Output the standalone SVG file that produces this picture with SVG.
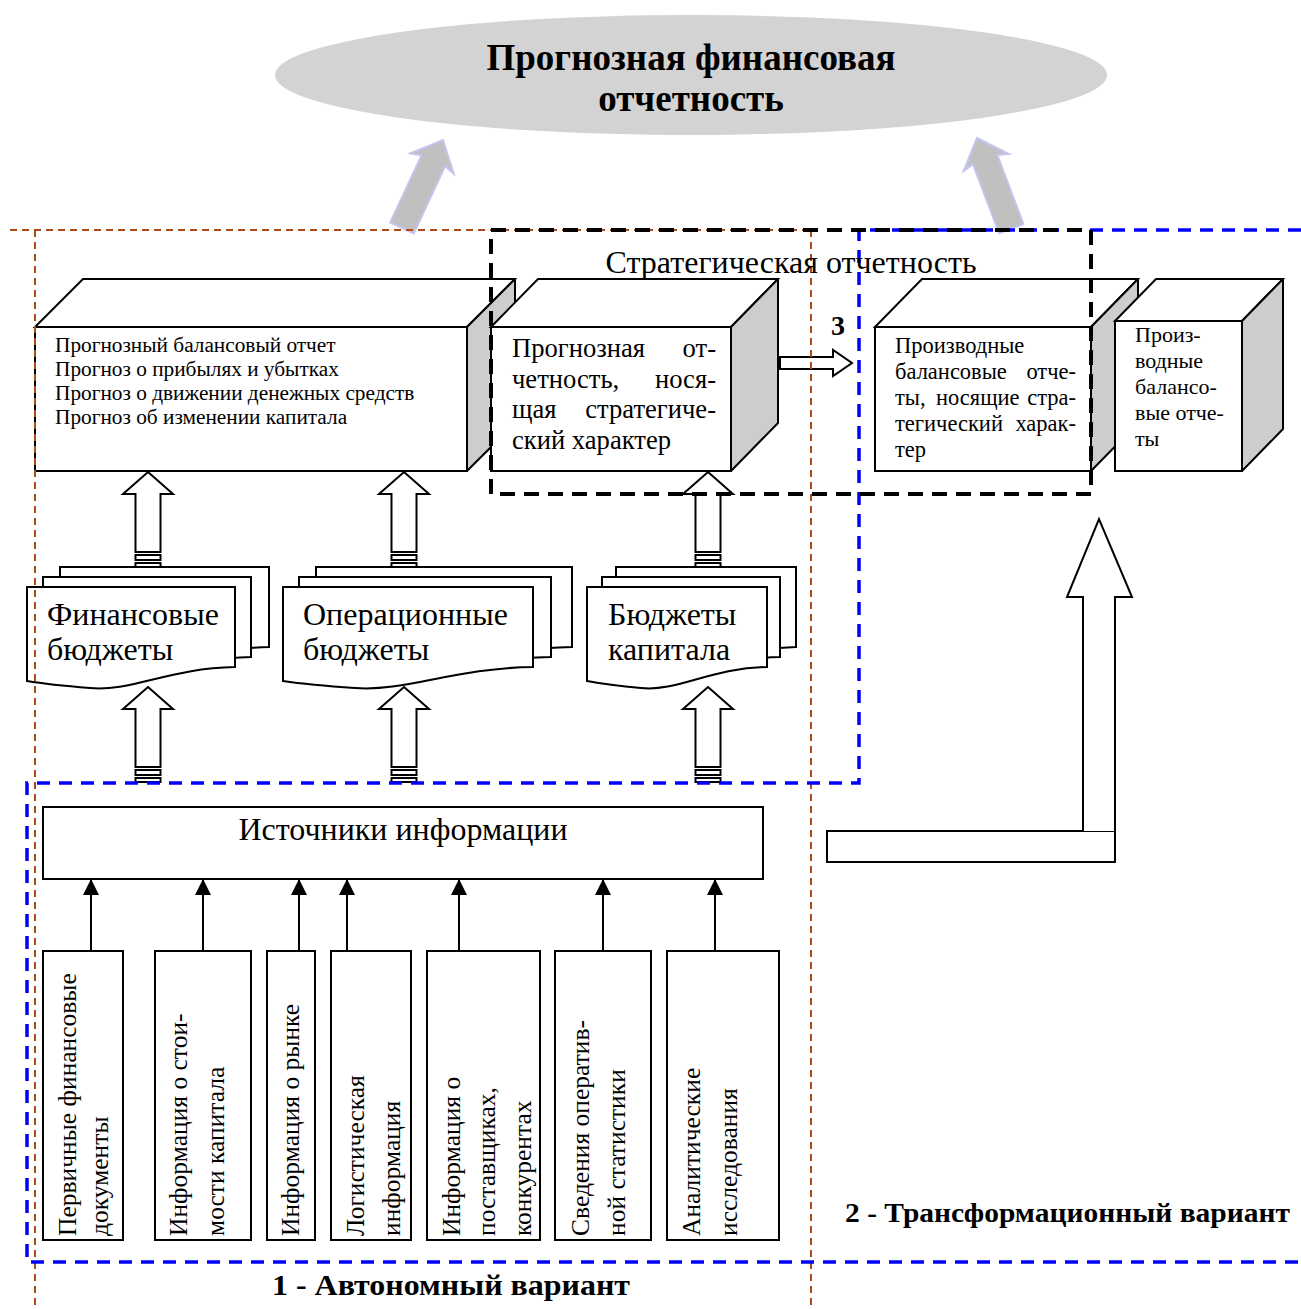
<svg xmlns="http://www.w3.org/2000/svg" width="1301" height="1309" viewBox="0 0 1301 1309">
  <style>
    text { font-family: "Liberation Serif", "Times New Roman", serif; fill: #000; }
    .b { font-weight: bold; }
    .box { fill: #fff; stroke: #000; stroke-width: 2; }
    .side { fill: #cdcdcd; stroke: #000; stroke-width: 2; stroke-linejoin: round; }
    .ln { stroke: #000; stroke-width: 2; fill: none; }
    .brown { stroke: #b04a1a; stroke-width: 2; fill: none; stroke-dasharray: 7 5; }
    .blue { stroke: #0000ff; stroke-width: 3.5; fill: none; stroke-dasharray: 13 9; }
    .black { stroke: #000; stroke-width: 4; fill: none; stroke-dasharray: 15 9; }
    .grey { fill: #c0c0c0; stroke: #c4c4f0; stroke-width: 2; }
    .vt { font-size: 25.5px; }
  </style>
  <defs>
    <marker id="tri" markerUnits="userSpaceOnUse" markerWidth="16" markerHeight="16" refX="16" refY="8" orient="auto">
      <path d="M0,0 L16,8 L0,16 Z" fill="#000"/>
    </marker>
    <!-- hollow block arrow pointing up, tip at origin, with two tail stripes -->
    <g id="blockUp">
      <polygon class="box" points="0,0 25,22 12.5,22 12.5,80 -12.5,80 -12.5,22 -25,22"/>
      <rect class="box" x="-12.5" y="83" width="25" height="5"/>
      <rect class="box" x="-12.5" y="91" width="25" height="4"/>
    </g>
    <!-- grey arrow towards the report ellipse -->
    <path id="greyArrow" d="M0,0 L24,26 L13,23 L13,97 L-13,97 L-13,23 L-24,26 Z"/>
  </defs>

  <rect width="1301" height="1309" fill="#fff"/>

  <!-- target: forecast financial reporting -->
  <g id="report">
    <ellipse cx="691" cy="75" rx="416" ry="60" fill="#d3d3d3"/>
    <text class="b" x="691" y="70" font-size="37" text-anchor="middle">Прогнозная финансовая</text>
    <text class="b" x="691" y="111" font-size="37" text-anchor="middle">отчетность</text>
  </g>

  <g id="up-arrows">
    <use href="#greyArrow" class="grey" transform="translate(443,140) rotate(25)"/>
    <use href="#greyArrow" class="grey" transform="translate(977,138) rotate(-20.7)"/>
  </g>

  <!-- cube 1: forecast statements -->
  <g id="cube-forecast">
    <path class="box" d="M35,327 L83,279 L515,279 L467,327 Z"/>
    <path class="side" d="M467,327 L515,279 L515,423 L467,471 Z"/>
    <rect class="box" x="35" y="327" width="432" height="144"/>
    <g font-size="21.3">
      <text x="55" y="352">Прогнозный балансовый отчет</text>
      <text x="55" y="376">Прогноз о прибылях и убытках</text>
      <text x="55" y="400">Прогноз о движении денежных средств</text>
      <text x="55" y="424">Прогноз об изменении капитала</text>
    </g>
  </g>

  <!-- cube 2: strategic forecast reporting -->
  <g id="cube-strategic">
    <path class="box" d="M491,327 L538,279 L778,279 L731,327 Z"/>
    <path class="side" d="M731,327 L778,279 L778,423 L731,471 Z"/>
    <rect class="box" x="491" y="327" width="240" height="144"/>
    <g font-size="26.6">
      <text x="512" y="357">Прогнозная</text>
      <text x="716" y="357" text-anchor="end">от-</text>
      <text x="512" y="388">четность,</text>
      <text x="716" y="388" text-anchor="end">нося-</text>
      <text x="512" y="418">щая</text>
      <text x="716" y="418" text-anchor="end">стратегиче-</text>
      <text x="512" y="449">ский характер</text>
    </g>
  </g>

  <!-- cube 3: derived strategic balance reports -->
  <g id="cube-derived-strategic">
    <path class="box" d="M875,327 L922,279 L1138,279 L1091,327 Z"/>
    <path class="side" d="M1091,327 L1138,279 L1138,423 L1091,471 Z"/>
    <rect class="box" x="875" y="327" width="216" height="144"/>
    <g font-size="22.5">
      <text x="895" y="353">Производные</text>
      <text x="895" y="379">балансовые</text>
      <text x="1076" y="379" text-anchor="end">отче-</text>
      <text x="895" y="405">ты,</text>
      <text x="936" y="405">носящие</text>
      <text x="1076" y="405" text-anchor="end">стра-</text>
      <text x="895" y="431">тегический</text>
      <text x="1076" y="431" text-anchor="end">харак-</text>
      <text x="895" y="457">тер</text>
    </g>
  </g>

  <!-- cube 4: derived balance reports -->
  <g id="cube-derived">
    <path class="box" d="M1115,321 L1156,279 L1283,279 L1242,321 Z"/>
    <path class="side" d="M1242,321 L1283,279 L1283,429 L1242,471 Z"/>
    <rect class="box" x="1115" y="321" width="127" height="150"/>
    <g font-size="22">
      <text x="1135" y="342">Произ-</text>
      <text x="1135" y="368">водные</text>
      <text x="1135" y="394">балансо-</text>
      <text x="1135" y="420">вые отче-</text>
      <text x="1135" y="446">ты</text>
    </g>
  </g>

  <!-- budget document stacks -->
  <g id="doc-financial">
    <path class="box" d="M60,567 H269 V647 C204,648 164,672 124,668 C99,666 79,664 60,661 Z"/>
    <path class="box" d="M43,577 H251 V657 C186,658 146,682 106,678 C81,676 61,674 43,671 Z"/>
    <path class="box" d="M27,587 H235 V667 C170,668 130,692 90,688 C65,686 45,684 27,681 Z"/>
    <text x="47" y="625" font-size="32">Финансовые</text>
    <text x="47" y="660" font-size="32">бюджеты</text>
  </g>
  <g id="doc-operational">
    <path class="box" d="M316,567 H572 V647 C494,648 444,672 394,668 C364,666 340,664 316,661 Z"/>
    <path class="box" d="M299,577 H551 V657 C473,658 423,682 373,678 C343,676 320,674 299,671 Z"/>
    <path class="box" d="M283,587 H533 V667 C455,668 405,692 355,688 C325,686 303,684 283,681 Z"/>
    <text x="303" y="625" font-size="32">Операционные</text>
    <text x="303" y="660" font-size="32">бюджеты</text>
  </g>
  <g id="doc-capital">
    <path class="box" d="M616,567 H796 V647 C740,648 706,672 670,668 C648,666 632,664 616,661 Z"/>
    <path class="box" d="M602,577 H780 V657 C724,658 690,682 654,678 C632,676 618,674 602,671 Z"/>
    <path class="box" d="M587,587 H767 V667 C711,668 677,692 641,688 C619,686 603,684 587,681 Z"/>
    <text x="608" y="625" font-size="32">Бюджеты</text>
    <text x="608" y="660" font-size="32">капитала</text>
  </g>

  <!-- information sources -->
  <g id="sources">
    <rect class="box" x="43" y="807" width="720" height="72"/>
    <text x="403" y="840" font-size="32" text-anchor="middle">Источники информации</text>
  </g>

  <g id="src-1">
    <rect class="box" x="43" y="951" width="80" height="289"/>
    <text class="vt" transform="translate(76,1236) rotate(-90)">Первичные финансовые</text>
    <text class="vt" transform="translate(108,1236) rotate(-90)">документы</text>
  </g>
  <g id="src-2">
    <rect class="box" x="155" y="951" width="96" height="289"/>
    <text class="vt" transform="translate(187,1236) rotate(-90)">Информация о стои-</text>
    <text class="vt" transform="translate(224,1236) rotate(-90)">мости капитала</text>
  </g>
  <g id="src-3">
    <rect class="box" x="267" y="951" width="48" height="289"/>
    <text class="vt" transform="translate(299,1236) rotate(-90)">Информация о рынке</text>
  </g>
  <g id="src-4">
    <rect class="box" x="331" y="951" width="80" height="289"/>
    <text class="vt" transform="translate(364,1236) rotate(-90)">Логистическая</text>
    <text class="vt" transform="translate(400,1236) rotate(-90)">информация</text>
  </g>
  <g id="src-5">
    <rect class="box" x="427" y="951" width="113" height="289"/>
    <text class="vt" transform="translate(460,1236) rotate(-90)">Информация о</text>
    <text class="vt" transform="translate(495,1236) rotate(-90)">поставщиках,</text>
    <text class="vt" transform="translate(531,1236) rotate(-90)">конкурентах</text>
  </g>
  <g id="src-6">
    <rect class="box" x="555" y="951" width="96" height="289"/>
    <text class="vt" transform="translate(589,1236) rotate(-90)">Сведения оператив-</text>
    <text class="vt" transform="translate(625,1236) rotate(-90)">ной статистики</text>
  </g>
  <g id="src-7">
    <rect class="box" x="667" y="951" width="112" height="289"/>
    <text class="vt" transform="translate(700,1236) rotate(-90)">Аналитические</text>
    <text class="vt" transform="translate(737,1236) rotate(-90)">исследования</text>
  </g>

  <!-- connectors -->
  <g id="connectors">
    <use href="#blockUp" transform="translate(148,472)"/>
    <use href="#blockUp" transform="translate(404,472)"/>
    <use href="#blockUp" transform="translate(708,472)"/>
    <use href="#blockUp" transform="translate(148,687)"/>
    <use href="#blockUp" transform="translate(404,687)"/>
    <use href="#blockUp" transform="translate(708,687)"/>

    <polygon class="box" points="780,357 833,357 833,350 852,363 833,376 833,369 780,369"/>

    <g class="ln" marker-end="url(#tri)">
      <line x1="91" y1="951" x2="91" y2="879"/>
      <line x1="203" y1="951" x2="203" y2="879"/>
      <line x1="299" y1="951" x2="299" y2="879"/>
      <line x1="347" y1="951" x2="347" y2="879"/>
      <line x1="459" y1="951" x2="459" y2="879"/>
      <line x1="603" y1="951" x2="603" y2="879"/>
      <line x1="715" y1="951" x2="715" y2="879"/>
    </g>

    <!-- L-shaped block arrow on the right -->
    <rect class="box" x="827" y="831" width="288" height="31"/>
    <path class="box" d="M1083,831 V597 H1067 L1099,519 L1132,597 H1115 V831"/>
  </g>

  <!-- variant boundaries -->
  <g id="boundaries">
    <path class="brown" d="M10,230 H811 M35,230 V1309 M811,230 V1309"/>
    <path class="blue" d="M1301,230 H859 V783 H27 V1262 H1301"/>
    <rect class="black" x="491" y="230" width="600" height="264"/>
  </g>

  <g id="labels">
    <text x="791" y="273" font-size="32" text-anchor="middle">Стратегическая отчетность</text>
    <text class="b" x="838" y="335" font-size="28" text-anchor="middle">3</text>
    <text class="b" x="845" y="1222" font-size="27" textLength="445" lengthAdjust="spacingAndGlyphs">2 - Трансформационный вариант</text>
    <text class="b" x="272" y="1295" font-size="29" textLength="358" lengthAdjust="spacingAndGlyphs">1 - Автономный вариант</text>
  </g>
</svg>
